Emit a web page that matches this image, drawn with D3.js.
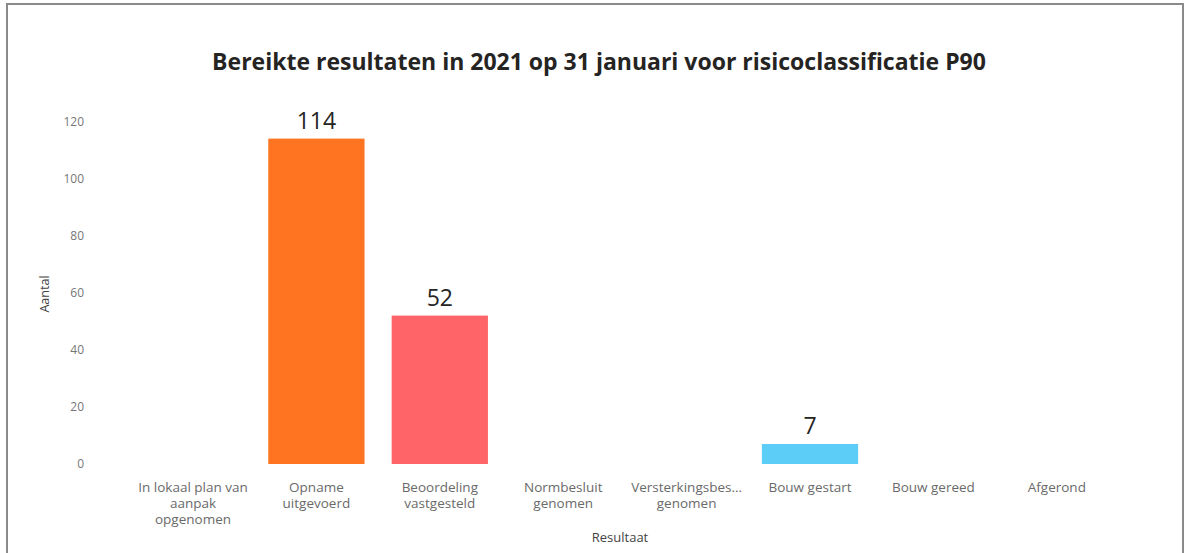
<!DOCTYPE html>
<html>
<head>
<meta charset="utf-8">
<script src="https://cdn.jsdelivr.net/npm/d3@7"></script>
<style>
  body { margin: 0; background: #fff; }
  text { font-family: "Segoe UI", "Open Sans", sans-serif; }
</style>
</head>
<body>
<div id="viz-wrapper"></div>
<script>
// chart data
let categories = ["In lokaal plan van aanpak opgenomen", "Opname uitgevoerd", "Beoordeling vastgesteld",
                  "Normbesluit genomen", "Versterkingsbesluit genomen", "Bouw gestart", "Bouw gereed", "Afgerond"];
let tickLabels = [["In lokaal plan van", "aanpak", "opgenomen"], ["Opname", "uitgevoerd"], ["Beoordeling", "vastgesteld"],
                  ["Normbesluit", "genomen"], ["Versterkingsbes...", "genomen"], ["Bouw gestart"], ["Bouw gereed"], ["Afgerond"]];
let values = [0, 114, 52, 0, 0, 7, 0, 0];
let barColors = ["#FF7421", "#FF7421", "#FE6468", "#FE6468", "#5CCDF7", "#5CCDF7", "#5CCDF7", "#5CCDF7"];
let yTicks = [0, 20, 40, 60, 80, 100, 120];

let width = 1184,
    height = 553;

let svg = d3.select("#viz-wrapper")
              .append('svg')
              .attr('width', width)
              .attr('height', height);

// frame
svg.append('rect')
  .attr('x', 7).attr('y', 4)
  .attr('width', 1176).attr('height', 560)
  .style('fill', 'none')
  .style('stroke', '#8a8a8a')
  .style('stroke-width', 2);

let xScale = d3.scaleBand()
  .domain(categories)
  .range([131.3, 1118.5])
  .paddingInner(0.22)
  .paddingOuter(0.11);

let yScale = d3.scaleLinear().domain([0, 120]).range([464, 121.5]);

// title
svg.append('text')
  .attr('x', 599).attr('y', 70)
  .attr('text-anchor', 'middle')
  .style('font-size', '23px')
  .style('font-weight', 'bold')
  .style('fill', '#252423')
  .text('Bereikte resultaten in 2021 op 31 januari voor risicoclassificatie P90');

// y axis
let yAxis = d3.axisLeft(yScale).tickValues(yTicks).tickSize(0).tickPadding(0);
let yG = svg.append('g')
  .attr('transform', 'translate(84,0)')
  .call(yAxis);
yG.select('.domain').remove();
yG.selectAll('text')
  .style('font-size', '12px')
  .style('font-family', '"Segoe UI", "Open Sans", sans-serif')
  .style('fill', '#777');

svg.append('text')
  .attr('transform', 'translate(49,294) rotate(-90)')
  .attr('text-anchor', 'middle')
  .style('font-size', '12.5px')
  .style('fill', '#444')
  .text('Aantal');

// bars
svg.selectAll('rect.bar')
  .data(values)
  .enter()
  .append('rect')
  .attr('class', 'bar')
  .attr('x', function(d, i){ return xScale(categories[i]); })
  .attr('width', xScale.bandwidth())
  .attr('y', function(d){ return yScale(d); })
  .attr('height', function(d){ return yScale(0) - yScale(d); })
  .style('fill', function(d, i){ return barColors[i]; });

// value labels
svg.selectAll('text.value')
  .data(values)
  .enter()
  .filter(function(d){ return d > 0; })
  .append('text')
  .attr('class', 'value')
  .attr('x', function(d){ return xScale(categories[values.indexOf(d)]) + xScale.bandwidth()/2; })
  .attr('y', function(d){ return yScale(d) - 10; })
  .attr('text-anchor', 'middle')
  .style('font-size', '23px')
  .style('fill', '#252423')
  .text(function(d){ return d; });

// x axis labels
let xAxis = d3.axisBottom(xScale).tickSize(0).tickPadding(0).tickFormat('');
let xG = svg.append('g')
  .attr('transform', 'translate(0,474)')
  .call(xAxis);
xG.select('.domain').remove();
xG.selectAll('.tick').each(function(d, i){
  let t = d3.select(this).append('text')
    .attr('text-anchor', 'middle')
    .attr('y', 18)
    .style('font-size', '13.5px')
    .style('font-family', '"Segoe UI", "Open Sans", sans-serif')
    .style('fill', '#6a6a6a');
  tickLabels[i].forEach(function(line, k){
    t.append('tspan').attr('x', 0).attr('dy', k === 0 ? 0 : 16).text(line);
  });
});

svg.append('text')
  .attr('x', 620).attr('y', 542)
  .attr('text-anchor', 'middle')
  .style('font-size', '13px')
  .style('fill', '#444')
  .text('Resultaat');
</script>
</body>
</html>
